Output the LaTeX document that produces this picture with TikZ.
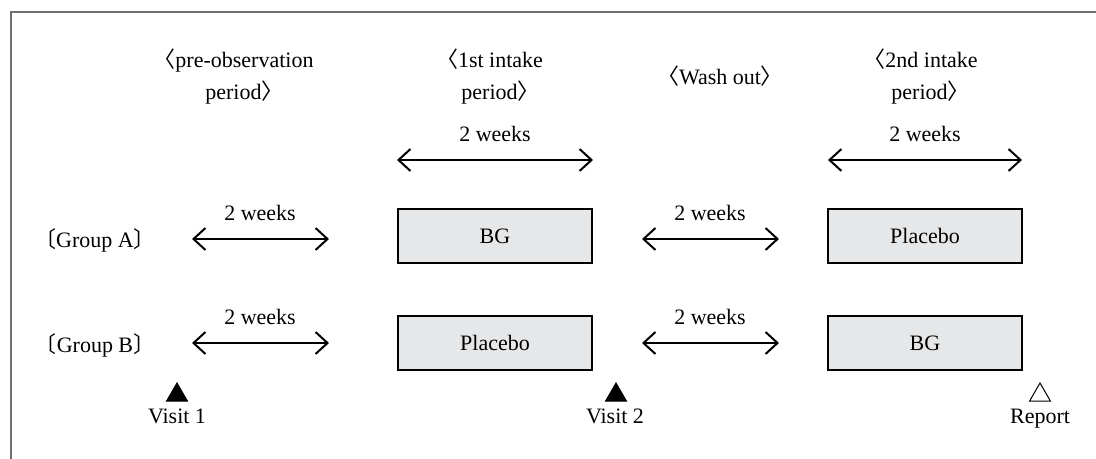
\documentclass[tikz,border=0pt]{standalone}
\usepackage{fontspec}
\setmainfont{Liberation Serif}
\newfontfamily\cjk{Noto Sans CJK JP}
\usetikzlibrary{arrows.meta,shapes.geometric}
\definecolor{boxgray}{HTML}{E6E7E8}
\definecolor{framegray}{HTML}{707070}
\newcommand\lbr{{\cjk\kern-0.5em 〈}}
\newcommand\rbr{{\cjk 〉\kern-0.5em}}
\begin{document}
\begin{tikzpicture}[x=0.5pt,y=-0.5pt,
  lbl/.style={font=\fontsize{11}{13}\selectfont, inner sep=0pt},
  bl/.style={lbl, anchor=base},
  periodbox/.style={draw=black, line width=0.8pt, fill=boxgray, minimum width=97pt, minimum height=27pt, inner sep=0pt, font=\fontsize{11}{13}\selectfont},
  dur/.style={{Straight Barb[length=6pt,width=11pt]}-{Straight Barb[length=6pt,width=11pt]}, line width=1pt},
  visit/.style={regular polygon, regular polygon sides=3, inner sep=0pt, minimum size=12pt, draw=black, line width=0.5pt}
]
\useasboundingbox (0,0) rectangle (1096,459);
\draw[framegray, line width=0.6pt] (11,459) -- (11,12) -- (1096,12);

% headers
\node[bl] (hpreA) at (239,68) {\lbr pre-observation};
\node[bl] (hpreB) at (239,100) {period\rbr};
\node[bl] (h1stA) at (495,68) {\lbr 1st intake};
\node[bl] (h1stB) at (495,100) {period\rbr};
\node[bl] (hwash) at (720,85) {\lbr Wash out\rbr};
\node[bl] (h2ndA) at (926,68) {\lbr 2nd intake};
\node[bl] (h2ndB) at (925,100) {period\rbr};

% top arrows
\coordinate (t1l) at (397,160); \coordinate (t1r) at (593,160);
\coordinate (t2l) at (828,160); \coordinate (t2r) at (1022,160);
\draw[dur] (t1l) -- (t1r);
\draw[dur] (t2l) -- (t2r);
\node[bl] (t1lab) at (495,142) {2 weeks};
\node[bl] (t2lab) at (925,142) {2 weeks};

% group labels
\node[lbl] (ga) at (95,240) {{\cjk 〔}Group A{\cjk 〕}};
\node[lbl] (gb) at (95,345) {{\cjk 〔}Group B{\cjk 〕}};

% boxes
\node[periodbox] (a1) at (495,236) {BG};
\node[periodbox] (a2) at (925,236) {Placebo};
\node[periodbox] (b1) at (495,343) {Placebo};
\node[periodbox] (b2) at (925,343) {BG};

% row arrows
\coordinate (apl) at (192,239); \coordinate (apr) at (329,239);
\coordinate (awl) at (642,239); \coordinate (awr) at (779,239);
\coordinate (bpl) at (192,343); \coordinate (bpr) at (329,343);
\coordinate (bwl) at (642,343); \coordinate (bwr) at (779,343);
\draw[dur] (apl) -- (apr);
\draw[dur] (awl) -- (awr);
\draw[dur] (bpl) -- (bpr);
\draw[dur] (bwl) -- (bwr);
\node[bl] (aplab) at (260,221) {2 weeks};
\node[bl] (awlab) at (710,221) {2 weeks};
\node[bl] (bplab) at (260,325) {2 weeks};
\node[bl] (bwlab) at (710,325) {2 weeks};

% visits
\node[visit, fill=black] (v1) at (177,395) {};
\node[visit, fill=black] (v2) at (616,395) {};
\node[visit, fill=white] (rep) at (1040,395) {};
\node[bl] (v1lab) at (177,423) {Visit 1};
\node[bl] (v2lab) at (615,423) {Visit 2};
\node[bl] (replab) at (1040,423) {Report};
\end{tikzpicture}
\end{document}
